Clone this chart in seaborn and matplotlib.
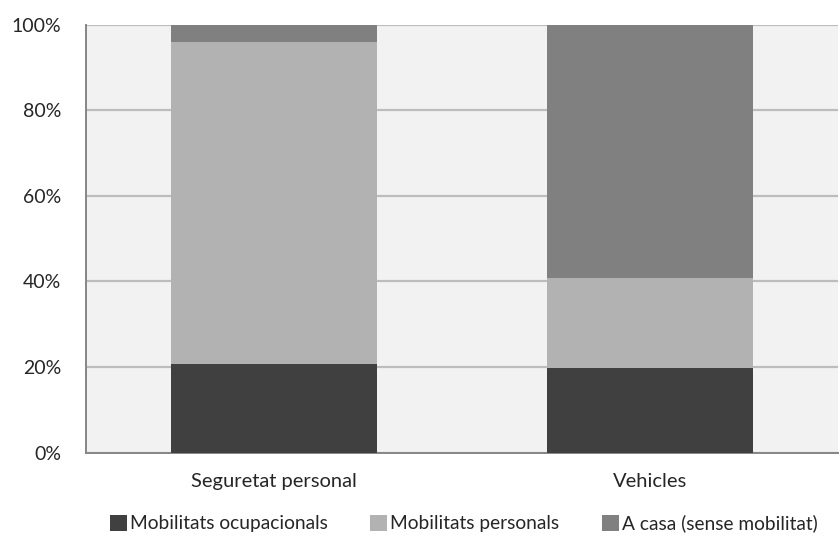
import numpy as np
import pandas as pd
import matplotlib
matplotlib.use("Agg")
import matplotlib.pyplot as plt
import seaborn as sns
from matplotlib.patches import Patch
from matplotlib.ticker import PercentFormatter

# -----------------------------
# Data (percent shares per category)
# -----------------------------
categories = ["Seguretat personal", "Vehicles"]
ocupacionals = [20.6, 19.7]
personals = [75.5, 21.0]
a_casa = [3.9, 59.3]
series_names = ["Mobilitats ocupacionals", "Mobilitats personals", "A casa (sense mobilitat)"]
series_colors = ["#404040", "#B2B2B2", "#808080"]
y_ticks = [0, 20, 40, 60, 80, 100]

df = pd.DataFrame({
    "Category": categories,
    series_names[0]: ocupacionals,
    series_names[1]: personals,
    series_names[2]: a_casa,
})
# cumulative tops, drawn back to front so each layer covers the one under it
cum = df[series_names].cumsum(axis=1)

sns.set_style("white")
plt.rcParams["font.family"] = ["Lato", "DejaVu Sans"]

fig, ax = plt.subplots(figsize=(8.4, 5.4), dpi=100)
fig.subplots_adjust(left=0.1024, right=0.9976, top=0.954, bottom=0.162)
ax.set_facecolor("#F2F2F2")

for name, color in zip(series_names[::-1], series_colors[::-1]):
    sns.barplot(x=df["Category"], y=cum[name], color=color, width=0.55,
                saturation=1, ax=ax, zorder=3, edgecolor="none")

ax.set_xlim(-0.5, 1.5)
ax.set_ylim(0, 100)
ax.set_yticks(y_ticks)
ax.yaxis.set_major_formatter(PercentFormatter(decimals=0))
ax.grid(axis="y", color="#BDBDBD", linewidth=1.6, zorder=0)
ax.set_axisbelow(True)
ax.set_xlabel("")
ax.set_ylabel("")

# category separators as ticks on the x axis
ax.set_xticks([-0.5, 0.5, 1.5], minor=False)
ax.set_xticklabels([])
ax.set_xticks([0, 1], minor=True)
ax.set_xticklabels(categories, minor=True, fontsize=14.5)
ax.tick_params(axis="x", which="major", length=6, width=1.2, color="#868686", direction="out")
ax.tick_params(axis="x", which="minor", length=0, pad=15)
ax.tick_params(axis="y", length=6, width=1.2, color="#868686", direction="out", labelsize=14, pad=12)

for side in ["top", "right"]:
    ax.spines[side].set_visible(False)
for side in ["left", "bottom"]:
    ax.spines[side].set_color("#868686")
    ax.spines[side].set_linewidth(1.4)

handles = [Patch(facecolor=c, edgecolor="none") for c in series_colors]
fig.legend(handles, series_names, loc="lower center", bbox_to_anchor=(0.552, -0.018),
           ncol=3, frameon=False, fontsize=13.8, handlelength=0.9, handleheight=0.9,
           handletextpad=0.15, columnspacing=2.2)

fig.savefig("out.png", dpi=100)
